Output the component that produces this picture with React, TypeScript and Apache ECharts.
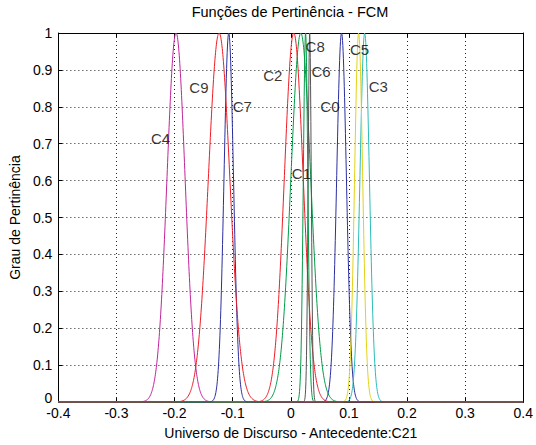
import React, { useEffect, useRef } from "react";
import * as echarts from "echarts";

// Membership function parameters (gaussian)
const clusterNames = ["C0", "C1", "C2", "C3", "C4", "C5", "C6", "C7", "C8", "C9"];
const centers = [0.0873, 0.0172, 0.0051, 0.1271, -0.1975, 0.1167, 0.0325, -0.1068, 0.0254, -0.1234];
const sigmas = [0.0084, 0.0171, 0.0163, 0.0082, 0.0156, 0.007, 0.0027, 0.0082, 0.0039, 0.0185];
const colors = ["#2b2f9e", "#009a48", "#ee1c25", "#2bbcb8", "#c0259a", "#e2d21a", "#555555", "#2b2f9e", "#009a48", "#ee1c25"];

// label positions (data coords)
const labelX = [0.0508, 0.0017, -0.0475, 0.1339, -0.2407, 0.1017, 0.0356, -0.1, 0.0254, -0.1746];
const labelY = [0.8, 0.618, 0.885, 0.856, 0.714, 0.955, 0.896, 0.802, 0.963, 0.853];

const xTicks = ["-0.4", "-0.3", "-0.2", "-0.1", "0", "0.1", "0.2", "0.3", "0.4"];
const yTicks = ["0", "0.1", "0.2", "0.3", "0.4", "0.5", "0.6", "0.7", "0.8", "0.9", "1"];

const X_MIN = -0.4;
const X_MAX = 0.4;
const STEP = 0.0005;

function gaussmf(x: number, c: number, s: number) {
  return Math.exp(-((x - c) * (x - c)) / (2 * s * s));
}

export default function App() {
  const ref = useRef<HTMLDivElement>(null);
  useEffect(() => {
    if (!ref.current) return;
    const chart = echarts.init(ref.current, undefined, { renderer: "svg" });
    const n = Math.round((X_MAX - X_MIN) / STEP);
    const font = "Liberation Sans, Arial, sans-serif";
    const series: any[] = clusterNames.map((name, i) => {
      const data: number[][] = [];
      for (let k = 0; k <= n; k++) {
        const x = X_MIN + k * STEP;
        data.push([x, gaussmf(x, centers[i], sigmas[i])]);
      }
      return {
        type: "line",
        name,
        data,
        showSymbol: false,
        symbol: "none",
        lineStyle: { color: colors[i], width: 1 },
        itemStyle: { color: colors[i] },
        xAxisIndex: 0,
        yAxisIndex: 0,
        z: 3,
      };
    });
    series.push({
      type: "scatter",
      xAxisIndex: 0,
      yAxisIndex: 0,
      data: clusterNames.map((nm, i) => [labelX[i], labelY[i], nm]),
      symbolSize: 1,
      itemStyle: { color: "rgba(0,0,0,0)" },
      label: {
        show: true,
        formatter: (p: any) => p.data[2],
        position: "inside",
        align: "left",
        verticalAlign: "middle",
        color: "#000",
        fontSize: 15,
        fontFamily: font,
      },
      labelLayout: { hideOverlap: false },
      z: 5,
    });
    const axisLine = { show: true, onZero: false, lineStyle: { color: "#000", width: 1 } };
    const option: any = {
      animation: false,
      backgroundColor: "#fff",
      grid: { left: 54, right: 10, top: 33, bottom: 38, containLabel: false },
      xAxis: [
        {
          type: "value",
          min: X_MIN,
          max: X_MAX,
          interval: 0.1,
          position: "bottom",
          axisLine,
          axisTick: { show: true, inside: true, length: 4, lineStyle: { color: "#000" } },
          axisLabel: {
            color: "#000",
            fontSize: 14,
            fontFamily: font,
            margin: 4,
            formatter: (v: number) => xTicks[Math.round((v - X_MIN) / 0.1)] ?? String(v),
          },
          splitLine: { show: true, lineStyle: { color: "#222", width: 1, type: [1, 3] } },
          name: "Universo de Discurso - Antecedente:C21",
          nameLocation: "middle",
          nameGap: 24,
          nameTextStyle: { color: "#000", fontSize: 14, fontFamily: font },
        },
        {
          type: "value",
          min: X_MIN,
          max: X_MAX,
          interval: 0.1,
          position: "top",
          axisLine,
          axisTick: { show: true, inside: true, length: 4, lineStyle: { color: "#000" } },
          axisLabel: { show: false },
          splitLine: { show: false },
        },
      ],
      yAxis: [
        {
          type: "value",
          min: 0,
          max: 1,
          interval: 0.1,
          position: "left",
          axisLine,
          axisTick: { show: true, inside: true, length: 4, lineStyle: { color: "#000" } },
          axisLabel: {
            color: "#000",
            fontSize: 14,
            fontFamily: font,
            margin: 6,
            formatter: (v: number) => {
              const idx = Math.round(v * 10);
              return idx === 0 ? "{z|" + yTicks[0] + "}" : yTicks[idx] ?? String(v);
            },
            rich: {
              z: { fontSize: 14, fontFamily: font, color: "#000", padding: [0, 0, 9, 0] },
            },
          },
          splitLine: { show: true, lineStyle: { color: "#222", width: 1, type: [1, 3] } },
          name: "Grau de Pertinência",
          nameLocation: "middle",
          nameGap: 33,
          nameRotate: 90,
          nameTextStyle: { color: "#000", fontSize: 14, fontFamily: font },
        },
        {
          type: "value",
          min: 0,
          max: 1,
          interval: 0.1,
          position: "right",
          axisLine,
          axisTick: { show: true, inside: true, length: 4, lineStyle: { color: "#000" } },
          axisLabel: { show: false },
          splitLine: { show: false },
        },
      ],
      graphic: [
        {
          type: "text",
          x: 290,
          y: 12,
          style: {
            text: "Funções de Pertinência - FCM",
            fill: "#000",
            fontSize: 14.5,
            fontFamily: font,
            textAlign: "center",
            textVerticalAlign: "middle",
          },
        },
      ],
      series,
    };
    chart.setOption(option);
    return () => chart.dispose();
  }, []);
  return (
    <div
      ref={ref}
      style={{ position: "absolute", left: 0, top: 0, width: 536, height: 445, background: "#fff" }}
    />
  );
}
